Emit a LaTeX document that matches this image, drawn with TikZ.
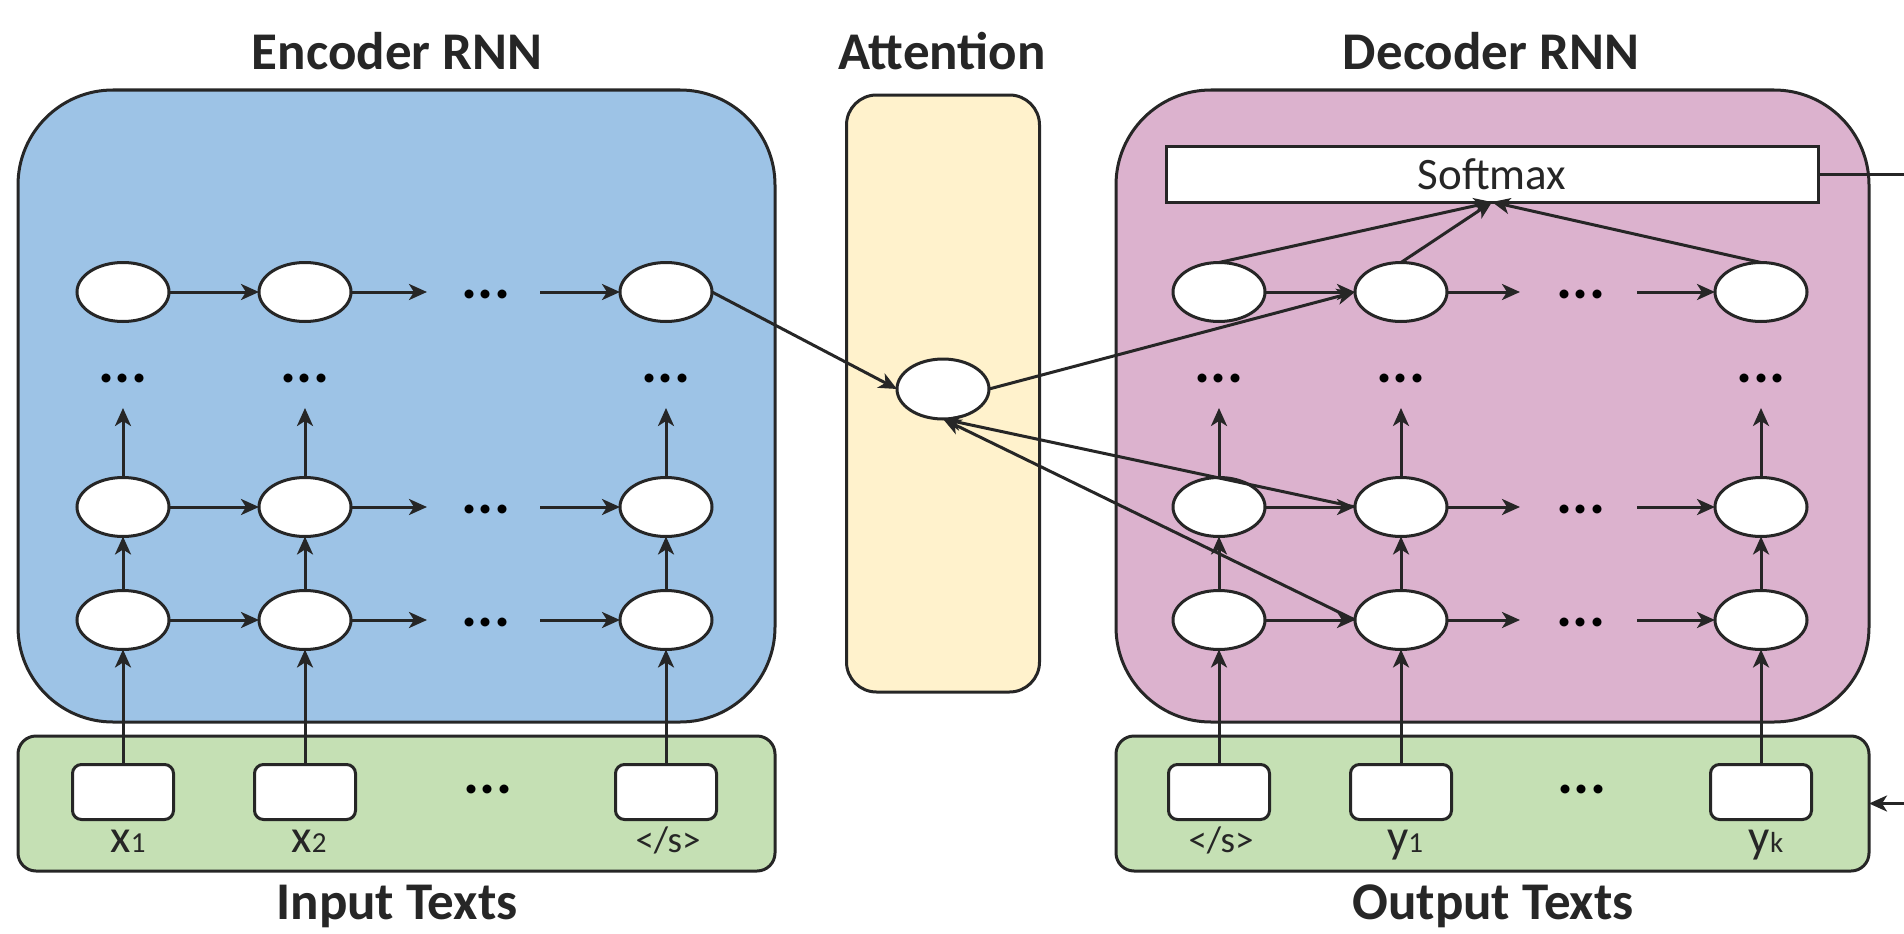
\documentclass[tikz,border=0pt]{standalone}
\usepackage{fontspec}
\setmainfont{Carlito}
\usetikzlibrary{arrows.meta,shapes.geometric}

\definecolor{encblue}{HTML}{9DC3E6}
\definecolor{attyellow}{HTML}{FFF2CC}
\definecolor{decpink}{HTML}{DCB2CE}
\definecolor{txtgreen}{HTML}{C5E0B4}
\definecolor{ink}{HTML}{262626}

\newcommand{\sub}[1]{{\fontsize{29}{29}\selectfont #1}}

\begin{document}
\begin{tikzpicture}[x=1pt,y=-1pt,
  every node/.style={inner sep=0pt, outer sep=0pt},
  panel/.style={draw=ink, line width=3pt, rounded corners=95pt},
  strip/.style={draw=ink, line width=3pt, rounded corners=18pt, fill=txtgreen,
    minimum width=757pt, minimum height=135pt},
  cell/.style={ellipse, draw=ink, fill=white, line width=3pt,
    minimum width=92pt, minimum height=59pt},
  tok/.style={draw=ink, fill=white, line width=3pt, rounded corners=9pt,
    minimum width=101pt, minimum height=55pt},
  link/.style={draw=ink, line width=3pt, -{Stealth[length=18pt,width=16pt,inset=5pt]}},
  plain/.style={draw=ink, line width=3pt},
  title/.style={font=\fontsize{53}{60}\selectfont\bfseries, text=ink, anchor=base},
  word/.style={font=\fontsize{47}{50}\selectfont, text=ink, anchor=base},
  tag/.style={font=\fontsize{37}{40}\selectfont, text=ink, anchor=base},
  dots/.style={font=\fontsize{60}{60}\selectfont\bfseries, text=black},
]
\useasboundingbox (0,0) rectangle (1904,934);

% panels
\node[panel, fill=encblue, minimum width=757pt, minimum height=632pt] (enc) at (396.5,406) {};
\node[panel, fill=attyellow, rounded corners=30pt, minimum width=193pt, minimum height=597pt] (attbox) at (943,393.5) {};
\node[panel, fill=decpink, minimum width=753pt, minimum height=632pt] (dec) at (1492.5,406) {};
\node[strip] (inbox) at (396.5,803.5) {};
\node[strip, minimum width=753pt] (outbox) at (1492.5,803.5) {};

% softmax layer
\node[draw=ink, fill=white, line width=3pt, minimum width=652pt, minimum height=56pt,
  font=\fontsize{45}{50}\selectfont, text=ink] (sm) at (1492,174) {Softmax};

% recurrent cells: row 1 is the top layer
\foreach \r/\y in {1/292,2/507,3/620}{
  \node[cell] (e\r1) at (123,\y) {};
  \node[cell] (e\r2) at (305,\y) {};
  \node[cell] (e\r3) at (666,\y) {};
  \node[cell] (d\r1) at (1219,\y) {};
  \node[cell] (d\r2) at (1401,\y) {};
  \node[cell] (d\r3) at (1761,\y) {};
}

% attention cell
\node[cell, minimum height=60pt] (att) at (943,389) {};

% token boxes
\node[tok] (i1) at (123,792) {};
\node[tok] (i2) at (305,792) {};
\node[tok] (i3) at (666,792) {};
\node[tok] (o1) at (1219,792) {};
\node[tok] (o2) at (1401,792) {};
\node[tok] (o3) at (1761,792) {};

% horizontal recurrences
\foreach \r/\y in {1/292,2/507,3/620}{
  \coordinate (ea\r) at (427,\y);
  \coordinate (eb\r) at (540,\y);
  \coordinate (da\r) at (1520,\y);
  \coordinate (db\r) at (1637,\y);
  \draw[link] (e\r1) -- (e\r2);
  \draw[link] (e\r2) -- (ea\r);
  \draw[link] (eb\r) -- (e\r3);
  \draw[link] (d\r1) -- (d\r2);
  \draw[link] (d\r2) -- (da\r);
  \draw[link] (db\r) -- (d\r3);
  \node[dots] (edots\r) at (486,\y+2) {...};
  \node[dots] (ddots\r) at (1581,\y+2) {...};
}

% vertical stacks
\foreach \c/\x in {1/123,2/305,3/666}{
  \coordinate (eu\c) at (\x,408);
  \draw[link] (i\c) -- (e3\c);
  \draw[link] (e3\c) -- (e2\c);
  \draw[link] (e2\c) -- (eu\c);
  \node[dots] (evd\c) at (\x,378) {...};
}
\foreach \c/\x in {1/1219,2/1401,3/1761}{
  \coordinate (du\c) at (\x,408);
  \draw[link] (o\c) -- (d3\c);
  \draw[link] (d3\c) -- (d2\c);
  \draw[link] (d2\c) -- (du\c);
  \node[dots] (dvd\c) at (\x,378) {...};
}

% attention links
\draw[link] (e13.east) -- (att.west);
\draw[link] (att.east) -- (d12.west);
\draw[link] (d22.west) -- (att.south);
\draw[link] (d32.west) -- (att.south);

% into the softmax
\draw[link] (d11.north) -- (sm.south);
\draw[link] (d12.north) -- (sm.south);
\draw[link] (d13.north) -- (sm.south);

% output feedback
\coordinate (smout) at (1904,174);
\coordinate (fbin) at (1904,803.5);
\draw[plain] (sm.east) -- (smout);
\draw[link] (fbin) -- (outbox.east);

% token labels
\node[word] (lx1) at (128,852) {x\sub{1}};
\node[word] (lx2) at (309,852) {x\sub{2}};
\node[tag] (lx3) at (668,852) {</s>};
\node[tag] (ly0) at (1221,852) {</s>};
\node[word] (ly1) at (1405,852) {y\sub{1}};
\node[word] (lyk) at (1766,852) {y\sub{k}};
\node[dots] (idots) at (488,789) {...};
\node[dots] (odots) at (1582,789) {...};

% titles
\node[title] (tenc) at (397,70) {Encoder RNN};
\node[title] (tatt) at (942,70) {Attention};
\node[title] (tdec) at (1491,70) {Decoder RNN};
\node[title] (tin) at (397,919) {Input Texts};
\node[title] (tout) at (1493,919) {Output Texts};
\end{tikzpicture}
\end{document}
